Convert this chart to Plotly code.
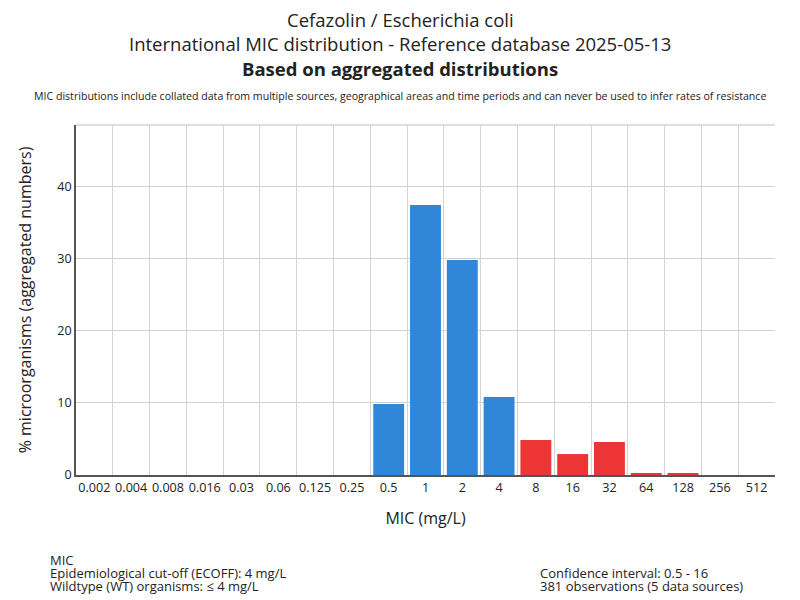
import plotly.graph_objects as go

mic_labels = ["0.002", "0.004", "0.008", "0.016", "0.03", "0.06", "0.125", "0.25",
              "0.5", "1", "2", "4", "8", "16", "32", "64", "128", "256", "512"]
percent = [0, 0, 0, 0, 0, 0, 0, 0, 9.83, 37.4, 29.8, 10.8, 4.85, 2.9, 4.57, 0.28, 0.28, 0, 0]
ecoff = 4  # wildtype <= ecoff

title_lines = ["Cefazolin / Escherichia coli",
               "International MIC distribution - Reference database 2025-05-13",
               "<b>Based on aggregated distributions</b>"]
subtitle = ("MIC distributions include collated data from multiple sources, geographical areas "
            "and time periods and can never be used to infer rates of resistance")
left_notes = ["MIC", "Epidemiological cut-off (ECOFF): 4 mg/L", "Wildtype (WT) organisms: ≤ 4 mg/L"]
right_notes = ["Confidence interval: 0.5 - 16", "381 observations (5 data sources)"]

blue = "#3086d9"
red = "#ee3535"
colors = [blue if float(m) <= ecoff else red for m in mic_labels]
FONT = "Open Sans"

fig = go.Figure()
fig.add_trace(go.Bar(x=mic_labels, y=percent, marker_color=colors, marker_line_width=0,
                     showlegend=False))

fig.update_layout(
    width=800, height=600,
    font=dict(family=FONT, color="#222222"),
    plot_bgcolor="white", paper_bgcolor="white",
    margin=dict(l=68, r=33, t=117, b=133),
    bargap=0.16,
    xaxis=dict(type="category", tickson="boundaries", showgrid=True, gridcolor="#d3d3d3",
               gridwidth=1, ticks="", tickangle=0, showline=True, linecolor="#555555", linewidth=1.5,
               tickfont=dict(size=12.6), automargin=False,
               title=dict(text="MIC (mg/L)", font=dict(size=16), standoff=18)),
    yaxis=dict(range=[0, 48.5], dtick=10, showgrid=True, gridcolor="#d3d3d3", zeroline=False,
               showline=True, linecolor="#555555", linewidth=1.5, ticks="", automargin=False,
               tickfont=dict(size=12.6),
               title=dict(text="% microorganisms (aggregated numbers)", font=dict(size=16), standoff=22)),
)

# light frame line on top of the plot area
fig.add_shape(type="line", xref="paper", yref="paper", x0=0, x1=1, y0=1, y1=1,
              line=dict(color="#d3d3d3", width=1.5))

title_x = (400 - 76) / 699
for line, shift in zip(title_lines, [106, 82, 57]):
    fig.add_annotation(text=line, xref="paper", yref="paper", x=title_x, y=1, yshift=shift,
                       yanchor="middle", showarrow=False, font=dict(size=18.5))
fig.add_annotation(text=subtitle, xref="paper", yref="paper", x=title_x, y=1, yshift=29,
                   yanchor="middle", showarrow=False, font=dict(size=10.6))

for line, shift in zip(left_notes, [-85, -98, -111]):
    fig.add_annotation(text=line, xref="paper", yref="paper", x=0, xshift=-28, xanchor="left",
                       y=0, yshift=shift, yanchor="middle", showarrow=False, font=dict(size=13))
for line, shift in zip(right_notes, [-98, -111]):
    fig.add_annotation(text=line, xref="paper", yref="paper", x=0.6605, xanchor="left",
                       y=0, yshift=shift, yanchor="middle", showarrow=False, font=dict(size=13))

fig.write_html("out.html")
